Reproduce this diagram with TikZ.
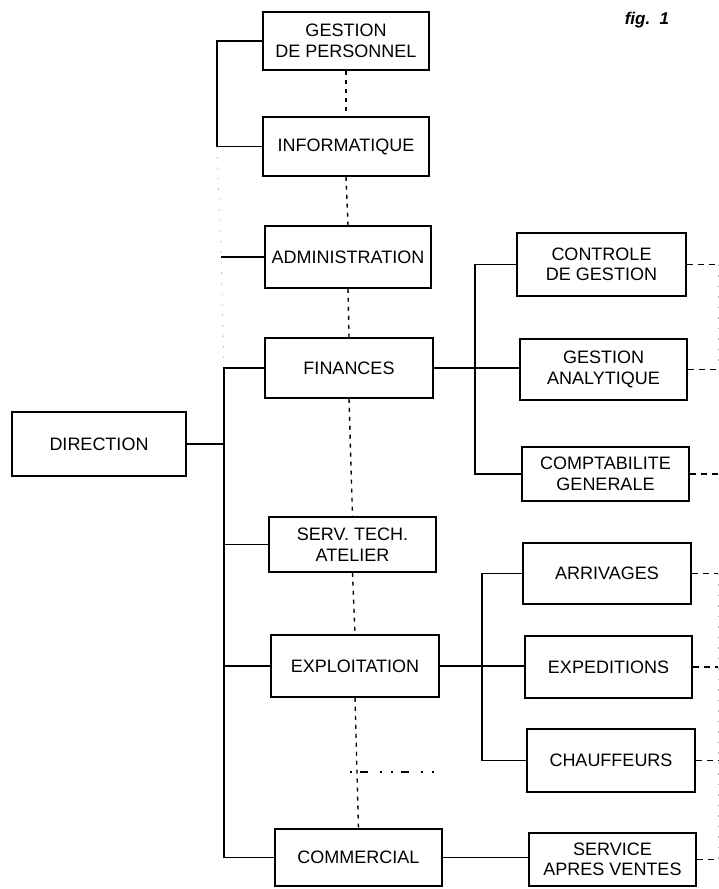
\documentclass[tikz,border=0pt]{standalone}
\usepackage{fontspec}
\setmainfont{Liberation Sans}
\begin{document}
\begin{tikzpicture}[x=1pt,y=-1pt,
  box/.style={draw, line width=1.5pt, inner sep=0pt, align=center,
    font=\fontsize{18}{20.5}\selectfont},
  link/.style={line width=1.4pt},
  vdash/.style={line width=1.4pt, dash pattern=on 4pt off 5pt},
  rdash/.style={line width=1.4pt, dash pattern=on 6pt off 5pt},
  faint/.style={line width=0.8pt, gray!60, dash pattern=on 1.5pt off 9pt}]
\useasboundingbox (0,0) rectangle (718,889);
% left column
\node[box, minimum width=166pt, minimum height=58pt] (gp) at (346,41) {GESTION\\DE PERSONNEL};
\node[box, minimum width=166pt, minimum height=59pt] (info) at (346,146.5) {INFORMATIQUE};
\node[box, minimum width=166pt, minimum height=62pt] (admin) at (348,257) {ADMINISTRATION};
\node[box, minimum width=168pt, minimum height=60pt] (fin) at (349,368) {FINANCES};
\node[box, minimum width=174pt, minimum height=64pt] (dir) at (99,444) {DIRECTION};
\node[box, minimum width=167pt, minimum height=55pt] (serv) at (352.5,544.5) {SERV. TECH.\\ATELIER};
\node[box, minimum width=168pt, minimum height=62pt] (expl) at (355,666) {EXPLOITATION};
\node[box, minimum width=167pt, minimum height=57pt] (comm) at (358.5,857.5) {COMMERCIAL};
% right column
\node[box, minimum width=169pt, minimum height=63pt] (ctrl) at (601.5,264.5) {CONTROLE\\DE GESTION};
\node[box, minimum width=167pt, minimum height=61pt] (gana) at (603.5,369.5) {GESTION\\ANALYTIQUE};
\node[box, minimum width=167pt, minimum height=54pt] (comp) at (605.5,474) {COMPTABILITE\\GENERALE};
\node[box, minimum width=168pt, minimum height=61pt] (arr) at (607,573.5) {ARRIVAGES};
\node[box, minimum width=167pt, minimum height=62pt] (exped) at (608.5,667) {EXPEDITIONS};
\node[box, minimum width=168pt, minimum height=63pt] (chauf) at (611,760.5) {CHAUFFEURS};
\node[box, minimum width=167pt, minimum height=53pt] (sav) at (612.5,859.5) {SERVICE\\APRES VENTES};
\node[font=\bfseries\itshape\fontsize{17}{19}\selectfont] (fig) at (647,20) {fig.~~1};
% helper coordinates
\coordinate (bx) at (217,0);
\coordinate (tk) at (224,0);
\coordinate (b1) at (475,0);
\coordinate (b2) at (482,0);
\coordinate (adminfree) at (221,257);
\coordinate (edge) at (718,0);
\coordinate (hd1) at (350,772);
\coordinate (hd2) at (434,772);
% top bracket
\draw[link] (gp.west) -- (gp.west -| bx) -- (info.west -| bx) -- (info.west);
\draw[link] (adminfree) -- (admin.west);
\draw[faint] (info.west -| bx) -- (adminfree) -- (fin.west -| tk);
% main trunk
\draw[link] (dir.east) -- (dir.east -| tk);
\draw[link] (fin.west) -- (fin.west -| tk) -- (comm.west -| tk) -- (comm.west);
\draw[link] (serv.west -| tk) -- (serv.west);
\draw[link] (expl.west -| tk) -- (expl.west);
% finances branch
\draw[link] (fin.east) -- (fin.east -| gana.west);
\draw[link] (ctrl.west) -- (ctrl.west -| b1) -- (comp.west -| b1) -- (comp.west);
% exploitation branch
\draw[link] (expl.east) -- (expl.east -| exped.west);
\draw[link] (arr.west) -- (arr.west -| b2) -- (chauf.west -| b2) -- (chauf.west);
% commercial
\draw[link] (comm.east) -- (comm.east -| sav.west);
% dashed vertical chain
\draw[vdash] (gp.south) -- (info.north);
\draw[vdash] (info.south) -- (admin.north);
\draw[vdash] (admin.south) -- (fin.north);
\draw[vdash] (fin.south) -- (serv.north);
\draw[vdash] (serv.south) -- (expl.north);
\draw[vdash] (expl.south) -- (comm.north);
\draw[line width=1.2pt, dash pattern=on 2pt off 8pt on 8pt off 12pt on 2pt off 9pt] (hd1) -- (hd2);
% right dashes
\foreach \n in {ctrl,gana,comp,arr,exped,chauf,sav}
  \draw[rdash] (\n.east) -- (\n.east -| edge);
\draw[faint] (ctrl.east -| edge) -- (gana.east -| edge);
\draw[faint] (arr.east -| edge) -- (sav.east -| edge);
\end{tikzpicture}
\end{document}
